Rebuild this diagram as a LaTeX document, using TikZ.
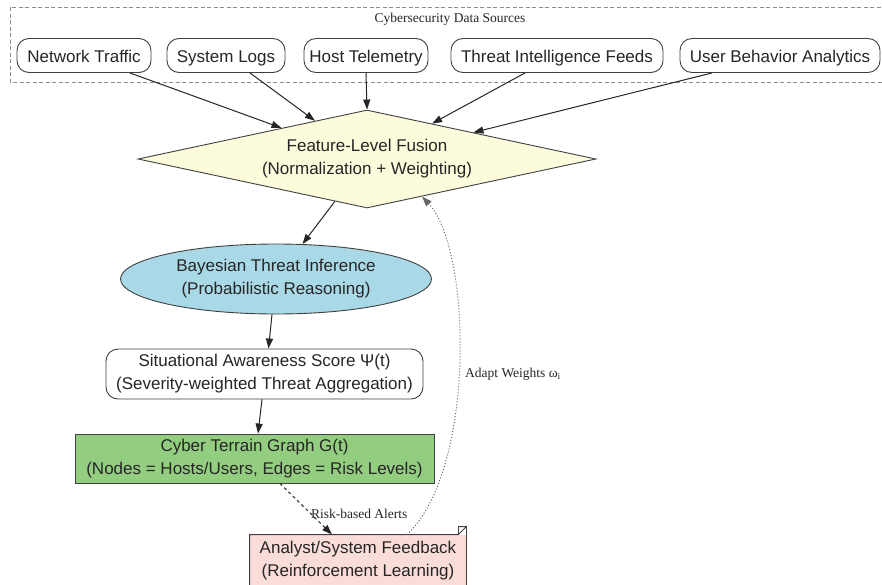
\documentclass[tikz,border=0pt]{standalone}
\usepackage{fontspec}
\setmainfont{Liberation Serif}
\newfontfamily\nodefont{Liberation Sans}
\usetikzlibrary{shapes.geometric,arrows.meta,calc}

\definecolor{edgegray}{HTML}{262626}
\definecolor{fusionfill}{HTML}{FCFBDC}
\definecolor{bayesfill}{HTML}{A9D8E6}
\definecolor{graphfill}{HTML}{93CD7F}
\definecolor{feedfill}{HTML}{FADCD8}

\begin{document}
\begin{tikzpicture}[x=1pt,y=-1pt,
  every node/.style={inner sep=0pt, text=black!85},
  nodebox/.style={draw=black!75, line width=0.9pt,
    font=\nodefont\fontsize{17}{23}\selectfont, align=center},
  srcbox/.style={nodebox, rounded corners=12pt, minimum height=34pt, fill=white,
    text height=15pt, text depth=0.9pt},
  lbl/.style={font=\fontsize{13.5}{16}\selectfont},
  flow/.style={draw=edgegray, line width=1pt, -{Triangle[length=10pt,width=7pt]}},
]
\useasboundingbox (0,0) rectangle (882,584);
\clip (0,0) rectangle (882,584);
\fill[white] (0,0) rectangle (882,584);

% cluster of data sources
\draw[draw=black!45, line width=0.8pt, dash pattern=on 4pt off 2.5pt] (10,7) rectangle (900,82);
\node[lbl] (clab) at (450,19) {Cybersecurity Data Sources};

\node[srcbox, minimum width=134pt] (nt) at (84,55.5)  {Network Traffic};
\node[srcbox, minimum width=118pt] (sl) at (226,55.5) {System Logs};
\node[srcbox, minimum width=124pt] (ht) at (366,55.5) {Host Telemetry};
\node[srcbox, minimum width=212pt] (ti) at (557,55.5) {Threat Intelligence Feeds};
\node[srcbox, minimum width=200pt] (ub) at (780,55.5) {User Behavior Analytics};

% processing chain
\node[nodebox, diamond, aspect=4.67, minimum width=458pt, minimum height=98pt,
      fill=fusionfill] (fusion) at (367,159)
  {Feature-Level Fusion\\(Normalization + Weighting)};

\node[nodebox, ellipse, minimum width=311pt, minimum height=70pt,
      fill=bayesfill] (bayes) at (276,279)
  {Bayesian Threat Inference\\(Probabilistic Reasoning)};

\node[nodebox, rounded corners=12pt, minimum width=317pt, minimum height=50pt,
      fill=white] (sa) at (264.5,374)
  {Situational Awareness Score Ψ(t)\\(Severity-weighted Threat Aggregation)};

\node[nodebox, minimum width=359pt, minimum height=49pt,
      fill=graphfill] (graph) at (254.5,458.5)
  {Cyber Terrain Graph G(t)\\(Nodes = Hosts/Users, Edges = Risk Levels)};

% feedback note with folded corner
\node[nodebox, draw=none, minimum width=216pt, minimum height=52pt,
      fill=feedfill] (fb) at (358,561)
  {Analyst/System Feedback\\(Reinforcement Learning)};
\draw[draw=black!75, line width=0.9pt]
  (fb.south west) -- (fb.north west) -- ([xshift=-8]fb.north east)
  -- ([yshift=8]fb.north east) -- (fb.south east)
  ([xshift=-8]fb.north east) -- ([xshift=-8,yshift=8]fb.north east)
  -- ([yshift=8]fb.north east);

% connectors
\draw[flow] ([xshift=46]nt.south) -- (fusion);
\draw[flow] ([xshift=24]sl.south) -- (fusion);
\draw[flow] (ht.south) -- (fusion.north);
\draw[flow] ([xshift=-32]ti.south) -- (fusion);
\draw[flow] ([xshift=-68]ub.south) -- (fusion);

\draw[flow] (fusion) -- (bayes);
\draw[flow] ([xshift=-4]bayes.south) -- ([xshift=4]sa.north);
\draw[flow] ([xshift=-2.5]sa.south) -- ([xshift=3.5]graph.north);
\draw[flow, dashed] ([xshift=25.5]graph.south) -- node[lbl, pos=0.55, right=2pt, yshift=-2pt] (alab) {Risk-based Alerts} ([xshift=-26]fb.north);

\coordinate (fbin) at ($(fusion.south)!0.24!(fusion.east)$);
\draw[flow, dotted, draw=black!60, line width=1pt]
  ([xshift=49]fb.north) .. controls (476,470) and (472,250) .. (fbin);
\node[lbl, anchor=west] (wlab) at (465,374) {Adapt Weights ω\textsubscript{i}};
\end{tikzpicture}
\end{document}
